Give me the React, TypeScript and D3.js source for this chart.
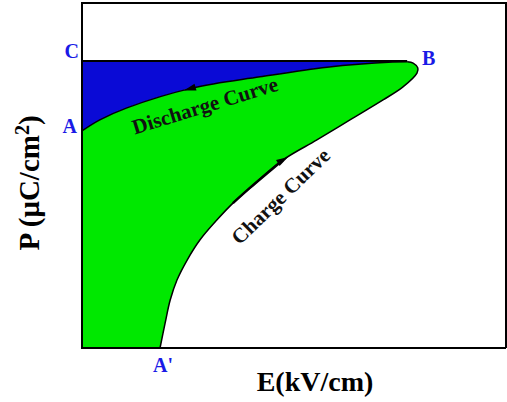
import React from 'react';
import * as d3 from 'd3';

// charge curve, A' -> B (E in arbitrary kV/cm units, P in arbitrary µC/cm² units)
const chargeE = [18.4, 19.6, 20.8, 22.4, 24.8, 27.8, 31.8, 35.6, 39.6, 47.4, 55.4, 63.2, 71.0, 75.7, 79.0, 79.2, 78.1, 76.7];
const chargeP = [0, 7.2, 13.9, 19.7, 25.5, 31.3, 37.1, 42.0, 46.4, 54.5, 60.3, 66.1, 71.9, 75.7, 79.7, 81.2, 82.6, 83.0];

// discharge curve, B -> A
const dischargeE = [76.7, 73.3, 57.8, 42.0, 26.2, 10.6, 4.2, 0];
const dischargeP = [83.0, 82.9, 81.4, 78.6, 75.4, 69.6, 66.1, 62.9];

const pMax = 83.2; // level of C / B
const pointLabels = [
  { text: 'C', e: -0.7, p: 84.1, anchor: 'end' },
  { text: 'A', e: -1.2, p: 62.3, anchor: 'end' },
  { text: 'B', e: 80.2, p: 82.0, anchor: 'start' },
  { text: "A'", e: 19.1, p: -7.0, anchor: 'middle' },
];

const W = 507;
const H = 402;
const blue = '#1a1ae6';

const App: React.FC = () => {
  const x = d3.scaleLinear().domain([0, 100]).range([82, 506]);
  const y = d3.scaleLinear().domain([0, 100]).range([348, 3]);

  const charge = chargeE.map((e, i) => [e, chargeP[i]] as [number, number]);
  const discharge = dischargeE.map((e, i) => [e, dischargeP[i]] as [number, number]);

  const line = d3
    .line<[number, number]>()
    .x((d) => x(d[0]))
    .y((d) => y(d[1]))
    .curve(d3.curveCatmullRom.alpha(0.5));

  const loop = charge.concat(discharge.slice(1));
  const greenPath = `${line(loop)}L${x(0)},${y(0)}Z`;
  const bluePath = `${line(discharge)}L${x(0)},${y(pMax)}Z`;

  // little arrow heads sitting on the curves
  const arrow = (pts: [number, number][], i: number, t: number, key: string) => {
    const a = pts[i];
    const b = pts[i + 1];
    const px = x(a[0] + (b[0] - a[0]) * t);
    const py = y(a[1] + (b[1] - a[1]) * t);
    const ang = (Math.atan2(y(b[1]) - y(a[1]), x(b[0]) - x(a[0])) * 180) / Math.PI;
    return (
      <path
        key={key}
        d="M6,0L-6,-3.5L-6,3.5Z"
        fill="#000"
        transform={`translate(${px},${py}) rotate(${ang})`}
      />
    );
  };

  return (
    <svg width={W} height={H} style={{ position: 'absolute', left: 0, top: 0 }}>
      <rect width={W} height={H} fill="#fff" />
      <path d={greenPath} fill="#00e800" />
      <path d={bluePath} fill="#0a0ad6" />
      <path d={line(charge) || ''} fill="none" stroke="#000" strokeWidth={1.5} />
      <path d={line(discharge) || ''} fill="none" stroke="#000" strokeWidth={1.5} />
      <path d={line(charge.slice(7, 10)) || ''} fill="none" stroke="#000" strokeWidth={2.5} />
      <line x1={x(0)} x2={x(76.7)} y1={y(pMax)} y2={y(pMax)} stroke="#000" strokeWidth={2} />
      {arrow(discharge, 4, 0.05, 'ad')}
      {arrow(charge, 9, 0.0, 'ac')}

      {/* frame */}
      <path
        d={`M${x(100)},${y(0)}H${x(0)}V${y(100)}H${x(100)}V${y(0)}`}
        fill="none"
        stroke="#000"
        strokeWidth={2}
      />

      {pointLabels.map((l) => (
        <text
          key={l.text}
          x={x(l.e)}
          y={y(l.p)}
          textAnchor={l.anchor}
          fill={blue}
          fontFamily="'Liberation Serif', serif"
          fontWeight="bold"
          fontSize={20}
        >
          {l.text}
        </text>
      ))}

      <text
        transform={`translate(${x(29.5)},${y(68.3)}) rotate(-17)`}
        textAnchor="middle"
        fontFamily="'Liberation Serif', serif"
        fontWeight="bold"
        fontSize={21}
        fill="#111"
      >
        Discharge Curve
      </text>
      <text
        transform={`translate(${x(48)},${y(42.5)}) rotate(-44)`}
        textAnchor="middle"
        fontFamily="'Liberation Serif', serif"
        fontWeight="bold"
        fontSize={21}
        fill="#111"
      >
        Charge Curve
      </text>

      <text
        x={315}
        y={391}
        textAnchor="middle"
        fontFamily="'Liberation Serif', serif"
        fontWeight="bold"
        fontSize={28}
      >
        E(kV/cm)
      </text>
      <text
        transform="translate(39,183) rotate(-90)"
        textAnchor="middle"
        fontFamily="'Liberation Serif', serif"
        fontWeight="bold"
        fontSize={29}
      >
        P (μC/cm<tspan dy={-10} fontSize={20}>2</tspan>
        <tspan dy={10}>)</tspan>
      </text>
    </svg>
  );
};

export default App;
